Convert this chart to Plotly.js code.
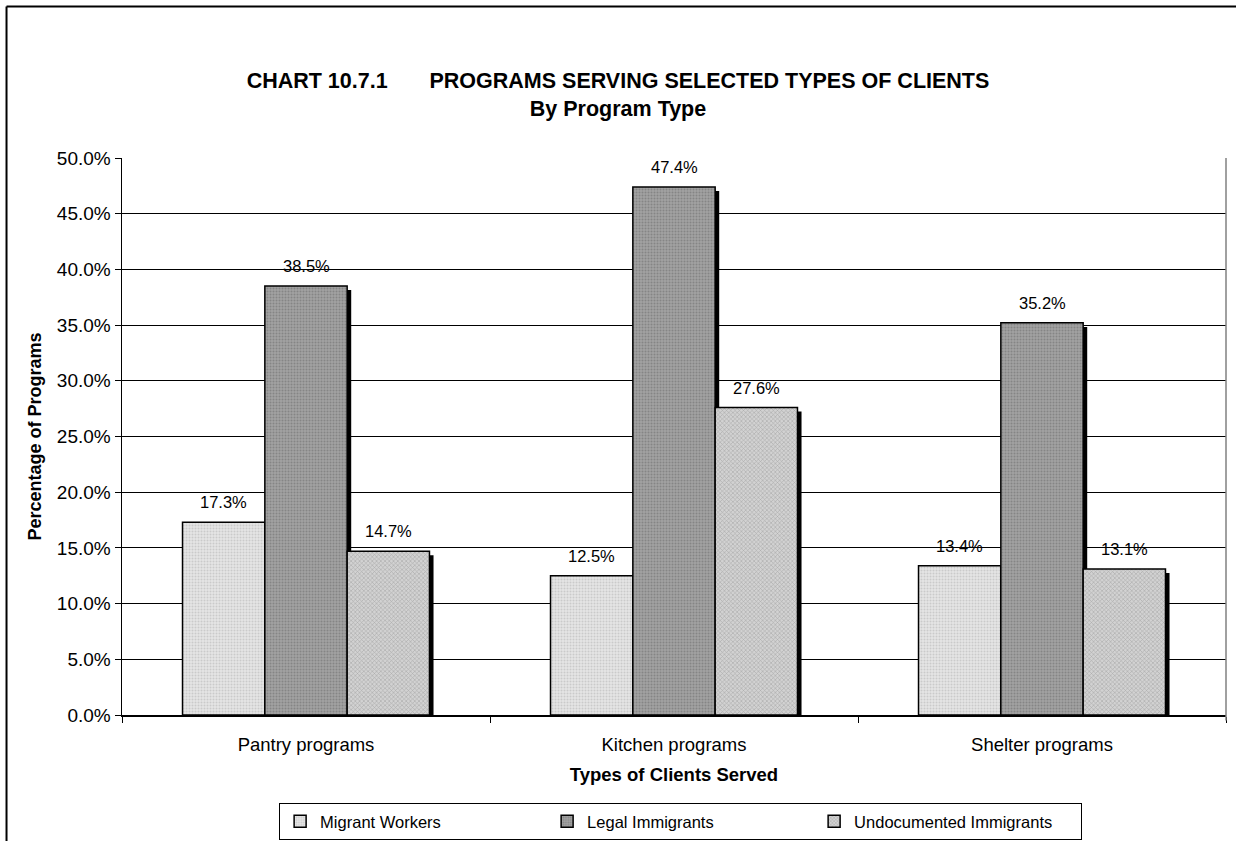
<!DOCTYPE html>
<html>
<head>
<meta charset="utf-8">
<script src="https://cdn.plot.ly/plotly-3.0.1.min.js"></script>
<style>
  html, body { margin: 0; padding: 0; background: #fff; }
  #chart { width: 1236px; height: 841px; }
</style>
</head>
<body>
<div id="chart"></div>
<script>
// ---- data ----
const categories = ["Pantry programs", "Kitchen programs", "Shelter programs"];
const seriesNames = ["Migrant Workers", "Legal Immigrants", "Undocumented Immigrants"];
const migrantWorkers = [17.3, 12.5, 13.4];
const legalImmigrants = [38.5, 47.4, 35.2];
const undocumentedImmigrants = [14.7, 27.6, 13.1];
const yTickValues = [0, 5, 10, 15, 20, 25, 30, 35, 40, 45, 50];

// ---- styling ----
const FONT = "Arial, 'Liberation Sans', sans-serif";
const barW = 0.2237;
const shadowDx = 0.011;   // category units (~4px)
const shadowDy = 0.36;    // percent units (~4px)
const seriesValues = [migrantWorkers, legalImmigrants, undocumentedImmigrants];
const seriesStyles = [
  {bg: "#e6e6e6", fg: "#cacaca", shape: ".", size: 3, solidity: 0.35},
  {bg: "#a2a2a2", fg: "#858585", shape: ".", size: 3, solidity: 0.35},
  {bg: "#d2d2d2", fg: "#a8a8a8", shape: "x", size: 3, solidity: 0.35}
];
const offsets = [-1.5 * barW, -0.5 * barW, 0.5 * barW];

const traces = [];
// shadows first
seriesValues.forEach((vals, i) => {
  traces.push({
    type: "bar",
    x: categories,
    y: vals.map(v => v - shadowDy),
    width: barW,
    offset: offsets[i] + shadowDx,
    marker: {color: "#000000", line: {width: 0}},
    showlegend: false,
    hoverinfo: "skip"
  });
});
seriesValues.forEach((vals, i) => {
  const s = seriesStyles[i];
  traces.push({
    type: "bar",
    name: seriesNames[i],
    x: categories,
    y: vals,
    width: barW,
    offset: offsets[i],
    marker: {
      color: s.bg,
      line: {color: "#000000", width: 1.5},
      pattern: {shape: s.shape, fgcolor: s.fg, bgcolor: s.bg, size: s.size, solidity: s.solidity, fillmode: "replace"}
    }
  });
});

// data labels
const annotations = [];
seriesValues.forEach((vals, i) => {
  vals.forEach((v, j) => {
    annotations.push({
      x: j + offsets[i] + barW / 2,
      y: v,
      xref: "x", yref: "y",
      text: v.toFixed(1) + "%",
      showarrow: false,
      yanchor: "bottom",
      yshift: 9,
      font: {family: FONT, size: 16.5, color: "#000"}
    });
  });
});

const layout = {
  width: 1236,
  height: 841,
  paper_bgcolor: "#ffffff",
  plot_bgcolor: "#ffffff",
  margin: {l: 122, r: 10, t: 158, b: 126, autoexpand: false},
  barmode: "overlay",
  font: {family: FONT, color: "#000"},
  title: {
    text: "<b>CHART 10.7.1\u00A0\u00A0\u00A0\u00A0\u00A0\u00A0\u00A0PROGRAMS SERVING SELECTED TYPES OF CLIENTS</b><br><b>By Program Type</b>",
    x: 0.5, xref: "container", xanchor: "center",
    y: 0.895, yref: "container", yanchor: "middle",
    font: {family: FONT, size: 21.5, color: "#000"}
  },
  xaxis: {
    type: "category",
    range: [-0.5, 2.5],
    automargin: false,
    showline: true, linecolor: "#000", linewidth: 1.5,
    ticks: "outside", ticklen: 6, tickcolor: "#000", tickson: "boundaries",
    ticklabelstandoff: 12,
    showgrid: false, zeroline: false,
    tickfont: {family: FONT, size: 18.5, color: "#000"},
    title: {text: "<b>Types of Clients Served</b>", font: {family: FONT, size: 18.5, color: "#000"}, standoff: 14}
  },
  yaxis: {
    range: [0, 50],
    automargin: false,
    tickvals: yTickValues,
    ticktext: yTickValues.map(v => v.toFixed(1) + "%"),
    showline: true, linecolor: "#000", linewidth: 1.5,
    ticks: "outside", ticklen: 6, tickcolor: "#000",
    showgrid: true, gridcolor: "#000", gridwidth: 1,
    zeroline: false,
    tickfont: {family: FONT, size: 19, color: "#000"},
    title: {text: "<b>Percentage of Programs</b>", font: {family: FONT, size: 18, color: "#000"}, standoff: 10}
  },
  legend: {
    orientation: "h",
    x: 0.506, xanchor: "center",
    yref: "container",
    y: 0.0452, yanchor: "top",
    bordercolor: "#000", borderwidth: 1,
    font: {family: FONT, size: 16.5, color: "#000"},
    entrywidth: 222, entrywidthmode: "pixels",
    itemwidth: 30,
    traceorder: "normal"
  },
  annotations: annotations,
  shapes: [
    {type: "line", xref: "paper", yref: "paper", x0: 1, x1: 1, y0: -0.01, y1: 1, line: {color: "#808080", width: 1.5}},
    {type: "line", xref: "paper", yref: "paper", x0: -0.1046, x1: 1.2, y0: 1.272, y1: 1.272, line: {color: "#000", width: 2}},
    {type: "line", xref: "paper", yref: "paper", x0: -0.1046, x1: -0.1046, y0: 1.272, y1: -0.4, line: {color: "#000", width: 2}}
  ],
  showlegend: true
};

Plotly.newPlot("chart", traces, layout, {displayModeBar: false, staticPlot: true});
</script>
</body>
</html>
